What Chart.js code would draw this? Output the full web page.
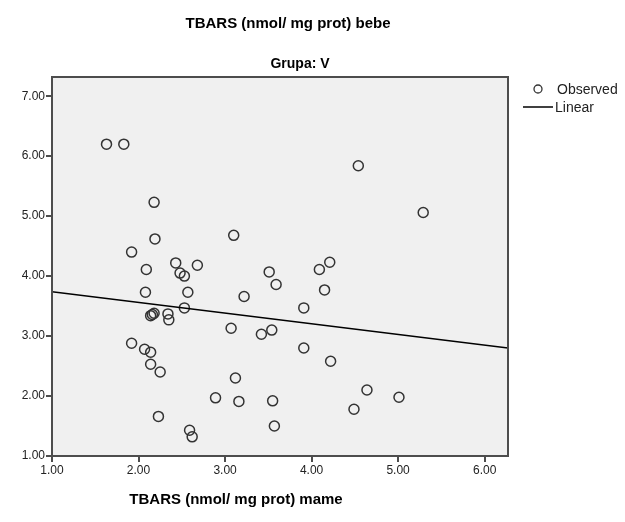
<!DOCTYPE html>
<html>
<head>
<meta charset="utf-8">
<script src="https://cdn.jsdelivr.net/npm/chart.js@4"></script>
<style>
  html, body { margin: 0; padding: 0; background: #fff; }
  #wrap { width: 625px; height: 522px; }
</style>
</head>
<body>
<div id="wrap"><canvas id="scatterChart" width="625" height="522"></canvas></div>
<script>
// values
const mameValues = [1.63, 1.83, 2.18, 2.19, 1.92, 2.09, 2.43, 2.48, 2.53, 2.68,
    2.08, 2.57, 2.53, 3.10, 3.22, 3.51, 3.59, 2.14, 2.16, 2.18,
    2.34, 2.35, 3.07, 3.42, 3.54, 1.92, 2.07, 2.14, 2.14, 2.25,
    3.12, 2.89, 3.16, 3.55, 2.23, 2.59, 2.62, 3.57, 3.91, 3.91,
    4.54, 5.29, 4.21, 4.09, 4.15, 4.22, 4.64, 5.01, 4.49];
const bebeValues = [6.20, 6.20, 5.23, 4.62, 4.40, 4.11, 4.22, 4.05, 4.00, 4.18,
    3.73, 3.73, 3.47, 4.68, 3.66, 4.07, 3.86, 3.34, 3.36, 3.38,
    3.37, 3.27, 3.13, 3.03, 3.10, 2.88, 2.78, 2.73, 2.53, 2.40,
    2.30, 1.97, 1.91, 1.92, 1.66, 1.43, 1.32, 1.50, 2.80, 3.47,
    5.84, 5.06, 4.23, 4.11, 3.77, 2.58, 2.10, 1.98, 1.78];
const fitLineX = [1.00, 6.27];
const fitLineY = [3.74, 2.80];
const xTickValues = [1, 2, 3, 4, 5, 6];
const yTickValues = [1, 2, 3, 4, 5, 6, 7];

const mainTitle = 'TBARS (nmol/ mg prot) bebe';
const subTitle = 'Grupa: V';
const xTitle = 'TBARS (nmol/ mg prot) mame';
const FONT = '"Liberation Sans", Arial, sans-serif';

// background + frame of the plot area
const plotFrame = {
    id: 'plotFrame',
    beforeDatasetsDraw(chart) {
        const { ctx, chartArea: a } = chart;
        ctx.save();
        ctx.fillStyle = '#f0f0f0';
        ctx.fillRect(a.left, a.top, a.right - a.left, a.bottom - a.top);
        ctx.restore();
    },
    afterDatasetsDraw(chart) {
        const { ctx, chartArea: a } = chart;
        ctx.save();
        ctx.strokeStyle = '#4d4d4d';
        ctx.lineWidth = 2;
        ctx.strokeRect(a.left, a.top, a.right - a.left, a.bottom - a.top);
        ctx.restore();
    }
};

// titles and the legend on the right
const textBits = {
    id: 'textBits',
    afterDraw(chart) {
        const { ctx } = chart;
        ctx.save();
        ctx.fillStyle = '#000';
        ctx.textAlign = 'center';
        ctx.textBaseline = 'middle';
        ctx.font = 'bold 15px ' + FONT;
        ctx.fillText(mainTitle, 288, 24);
        ctx.font = 'bold 14px ' + FONT;
        ctx.fillText(subTitle, 300, 64);
        ctx.font = 'bold 15px ' + FONT;
        ctx.fillText(xTitle, 236, 500);

        // legend
        const ds = chart.data.datasets;
        ctx.font = '14px ' + FONT;
        ctx.textAlign = 'left';
        ctx.fillStyle = '#222';
        ctx.strokeStyle = '#333';
        ctx.lineWidth = 1.3;
        ctx.beginPath();
        ctx.arc(538, 89, 4, 0, Math.PI * 2);
        ctx.stroke();
        ctx.fillText(ds[0].label, 557, 90);
        ctx.strokeStyle = '#000';
        ctx.lineWidth = 1.5;
        ctx.beginPath();
        ctx.moveTo(523, 107);
        ctx.lineTo(553, 107);
        ctx.stroke();
        ctx.fillText(ds[1].label, 555, 108);
        ctx.restore();
    }
};

function renderChart() {
    const ctx = document.getElementById('scatterChart').getContext('2d');
    new Chart(ctx, {
        type: 'scatter',
        data: {
            datasets: [{
                label: 'Observed',
                data: mameValues.map((x, i) => ({ x: x, y: bebeValues[i] })),
                pointRadius: 5,
                pointHoverRadius: 5,
                pointBorderWidth: 1.5,
                pointBorderColor: '#333',
                pointBackgroundColor: 'rgba(0,0,0,0)',
                order: 2
            }, {
                type: 'line',
                label: 'Linear',
                data: fitLineX.map((x, i) => ({ x: x, y: fitLineY[i] })),
                borderColor: '#000',
                borderWidth: 1.5,
                pointRadius: 0,
                fill: false,
                order: 1
            }]
        },
        options: {
            responsive: false,
            animation: false,
            layout: { padding: { left: 0, top: 77, right: 117, bottom: 36 } },
            plugins: {
                legend: { display: false },
                title: { display: false },
                tooltip: { enabled: false }
            },
            scales: {
                x: {
                    type: 'linear',
                    min: 1,
                    max: 6.27,
                    afterBuildTicks: s => { s.ticks = xTickValues.map(v => ({ value: v })); },
                    afterFit: s => { s.height = 30; },
                    grid: { display: true, drawOnChartArea: false, drawTicks: true, tickLength: 6, color: '#4d4d4d', lineWidth: 2 },
                    border: { display: false },
                    ticks: {
                        color: '#222',
                        padding: 1,
                        font: { family: FONT, size: 12 },
                        callback: v => v.toFixed(2),
                        maxRotation: 0
                    }
                },
                y: {
                    type: 'linear',
                    min: 1,
                    max: 7.32,
                    afterBuildTicks: s => { s.ticks = yTickValues.map(v => ({ value: v })); },
                    afterFit: s => { s.width = 52; },
                    grid: { display: true, drawOnChartArea: false, drawTicks: true, tickLength: 6, color: '#4d4d4d', lineWidth: 2 },
                    border: { display: false },
                    ticks: {
                        color: '#222',
                        padding: 1,
                        font: { family: FONT, size: 12 },
                        callback: v => v.toFixed(2)
                    }
                }
            }
        },
        plugins: [plotFrame, textBits]
    });
}

window.onload = function() {
    renderChart();
};
</script>
</body>
</html>
